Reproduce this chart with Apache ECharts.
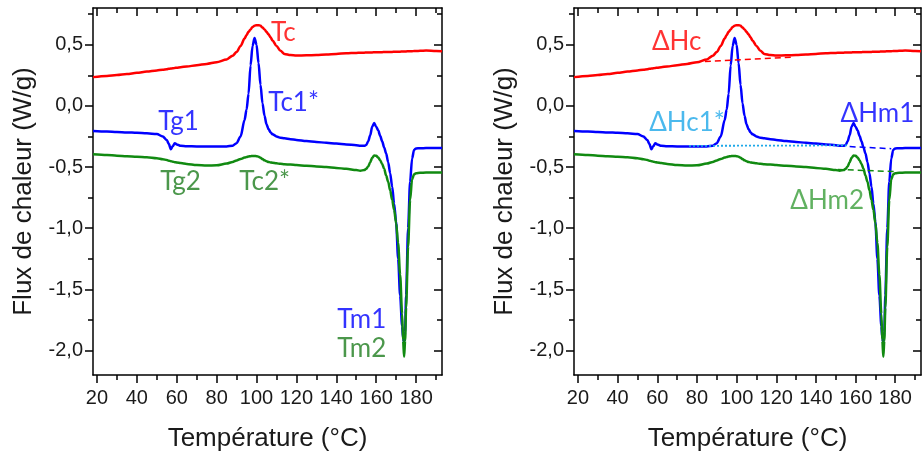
<!DOCTYPE html>
<html>
<head>
<meta charset="utf-8">
<script src="https://cdn.jsdelivr.net/npm/echarts@6/dist/echarts.min.js"></script>
<style>html,body{margin:0;padding:0;background:#fff}#c{width:922px;height:457px}</style>
</head>
<body>
<div id="c"></div>
<script>
// ---- data ----
const temps = [18,25,30,35,40,45,50,53,55,56,
  57,58,59,60,62,65,70,75,80,85,
  88,90,92,94,95,96,97,98,99,100,
  101,102,103,104,105,106,107,108,110,112,
  114,117,120,125,130,135,140,145,150,152,
  154,155,156,157,158,159,160,161,162,163,
  164,165,166,167,168,169,170,171,172,173,
  173.5,174,174.5,175,176,177,178,179,180,182,
  185,190,193];
const fluxRed = [.235,.245,.252,.26,.27,.28,.29,.296,.30,.303,
  .305,.307,.31,.312,.316,.322,.332,.343,.357,.38,
  .41,.44,.49,.55,.58,.605,.625,.645,.655,.66,
  .66,.655,.64,.625,.605,.585,.56,.535,.49,.45,
  .425,.415,.412,.413,.416,.42,.425,.43,.433,.434,
  .435,.436,.436,.437,.437,.438,.438,.438,.439,.439,
  .44,.44,.44,.441,.441,.442,.442,.443,.443,.444,
  .444,.444,.445,.445,.446,.447,.447,.448,.449,.45,
  .452,.449,.446];
const fluxBlue = [-.205,-.21,-.214,-.217,-.22,-.224,-.23,-.25,-.28,-.31,
  -.355,-.33,-.305,-.315,-.327,-.33,-.332,-.333,-.333,-.332,
  -.325,-.305,-.25,-.115,-.03,.10,.33,.49,.555,.50,
  .35,.17,.02,-.08,-.15,-.19,-.215,-.232,-.25,-.26,
  -.265,-.272,-.278,-.288,-.295,-.302,-.308,-.315,-.322,-.325,
  -.327,-.32,-.29,-.24,-.17,-.14,-.17,-.2,-.245,-.29,
  -.34,-.39,-.46,-.55,-.66,-.8,-.95,-1.25,-1.55,-1.8,
  -1.9,-1.935,-1.85,-1.55,-1.0,-.62,-.43,-.36,-.348,-.346,
  -.345,-.345,-.345];
const fluxGreen = [-.396,-.402,-.407,-.411,-.415,-.42,-.428,-.436,-.443,-.448,
  -.452,-.456,-.46,-.463,-.468,-.475,-.484,-.488,-.486,-.472,
  -.458,-.446,-.434,-.423,-.418,-.414,-.411,-.409,-.409,-.411,
  -.416,-.425,-.435,-.445,-.452,-.458,-.462,-.465,-.47,-.474,
  -.477,-.48,-.484,-.49,-.495,-.5,-.507,-.515,-.525,-.53,
  -.525,-.515,-.495,-.46,-.425,-.405,-.408,-.422,-.445,-.475,
  -.515,-.57,-.62,-.69,-.77,-.85,-.96,-1.12,-1.38,-1.7,
  -1.92,-2.05,-1.92,-1.65,-1.15,-.77,-.6,-.56,-.55,-.547,
  -.545,-.545,-.545];

// baselines (right panel)
const baseHcT = [84, 128],  baseHcV = [.362, .398];
const baseHc1T = [76, 156], baseHc1V = [-.327, -.323];
const baseHm1T = [157, 178], baseHm1V = [-.333, -.35];
const baseHm2T = [151, 180], baseHm2V = [-.52, -.537];

// annotations
const leftLabels = ['Tc','Tc1*','Tg1','Tg2','Tc2*','Tm1','Tm2'];
const leftLabelT = [113.4,118.6,60.9,61.9,104.1,152.8,152.8];
const leftLabelV = [0.597,0.025,-0.131,-0.621,-0.621,-1.75,-1.987];
const leftLabelColor = ['#ff0000','#0000ff','#0000ff','#1e7d1e','#1e7d1e','#0000ff','#1e7d1e'];
const rightLabels = ['ΔHc','ΔHc1*','ΔHm1','ΔHm2'];
const rightLabelT = [69.8,75.0,171.0,145.7];
const rightLabelV = [0.523,-0.139,-0.065,-0.777];
const rightLabelColor = ['#ff0000','#1ea8e8','#0000ff','#3a9e3a'];

// ticks
const xMajorTicks = [20,40,60,80,100,120,140,160,180];
const xMinorTicks = [30,50,70,90,110,130,150,170,190];
const yMajorTicks = [-2.0,-1.5,-1.0,-0.5,0.0,0.5];
const yMajorLabels = ['-2,0','-1,5','-1,0','-0,5','0,0','0,5'];
const yMinorTicks = [-1.75,-1.25,-0.75,-0.25,0.25,0.75];

const X_MIN = 18, X_MAX = 193, Y_MIN = -2.2, Y_MAX = 0.8;

// ---- build ----
const zip = (a, b) => a.map((v, i) => [v, b[i]]);
const AX = '#000';
const labelFont = 'Liberation Sans, Arial, sans-serif';

const xAxes = [], yAxes = [], series = [];
const grids = [
  {left: 93, top: 8, width: 349, height: 367},
  {left: 574, top: 8, width: 347, height: 367}
];

grids.forEach((g, gi) => {
  const base = {type: 'value', gridIndex: gi, min: X_MIN, max: X_MAX, splitLine: {show: false}};
  xAxes.push(Object.assign({}, base, {
    position: 'bottom',
    axisLine: {show: true, onZero: false, lineStyle: {color: AX, width: 1.5}},
    axisTick: {show: true, customValues: xMajorTicks, length: 8, lineStyle: {color: AX, width: 1.5}},
    axisLabel: {show: true, customValues: xMajorTicks, fontSize: 20, color: '#1a1a1a', fontFamily: labelFont, margin: 13},
    name: 'Température (°C)', nameLocation: 'middle', nameGap: 51,
    nameTextStyle: {fontSize: 26, color: '#1a1a1a', fontFamily: labelFont}
  }));
  xAxes.push(Object.assign({}, base, {
    position: 'bottom',
    axisLine: {show: false, onZero: false},
    axisTick: {show: true, customValues: xMinorTicks, length: 5, lineStyle: {color: AX, width: 1.5}},
    axisLabel: {show: false}
  }));
  xAxes.push(Object.assign({}, base, {
    position: 'top',
    axisLine: {show: true, onZero: false, lineStyle: {color: AX, width: 1.5}},
    axisTick: {show: true, inside: true, customValues: xMajorTicks, length: 8, lineStyle: {color: AX, width: 1.5}},
    axisLabel: {show: false}
  }));
  xAxes.push(Object.assign({}, base, {
    position: 'top',
    axisLine: {show: false, onZero: false},
    axisTick: {show: true, inside: true, customValues: xMinorTicks, length: 5, lineStyle: {color: AX, width: 1.5}},
    axisLabel: {show: false}
  }));

  const ybase = {type: 'value', gridIndex: gi, min: Y_MIN, max: Y_MAX, splitLine: {show: false}};
  yAxes.push(Object.assign({}, ybase, {
    position: 'left',
    axisLine: {show: true, onZero: false, lineStyle: {color: AX, width: 1.5}},
    axisTick: {show: true, customValues: yMajorTicks, length: 8, lineStyle: {color: AX, width: 1.5}},
    axisLabel: {show: true, customValues: yMajorTicks, fontSize: 20, color: '#1a1a1a', fontFamily: labelFont, margin: 10,
      formatter: v => { const i = yMajorTicks.findIndex(t => Math.abs(t - v) < 1e-6); return i >= 0 ? yMajorLabels[i] : ''; }},
    name: 'Flux de chaleur (W/g)', nameLocation: 'middle', nameGap: 56, nameRotate: 90,
    nameTextStyle: {fontSize: 26, color: '#1a1a1a', fontFamily: labelFont}
  }));
  yAxes.push(Object.assign({}, ybase, {
    position: 'left',
    axisLine: {show: false, onZero: false},
    axisTick: {show: true, customValues: yMinorTicks, length: 5, lineStyle: {color: AX, width: 1.5}},
    axisLabel: {show: false}
  }));
  yAxes.push(Object.assign({}, ybase, {
    position: 'right',
    axisLine: {show: true, onZero: false, lineStyle: {color: AX, width: 1.5}},
    axisTick: {show: true, inside: true, customValues: yMajorTicks, length: 8, lineStyle: {color: AX, width: 1.5}},
    axisLabel: {show: false}
  }));
  yAxes.push(Object.assign({}, ybase, {
    position: 'right',
    axisLine: {show: false, onZero: false},
    axisTick: {show: true, inside: true, customValues: yMinorTicks, length: 5, lineStyle: {color: AX, width: 1.5}},
    axisLabel: {show: false}
  }));

  const xi = gi * 4, yi = gi * 4;
  const curve = (vals, color) => ({
    type: 'line', xAxisIndex: xi, yAxisIndex: yi, data: zip(temps, vals),
    showSymbol: false, symbol: 'none', smooth: 0.3, smoothMonotone: 'x',
    lineStyle: {color: color, width: 2.5}, silent: true, animation: false
  });
  series.push(curve(fluxRed, '#ff0000'));
  series.push(curve(fluxBlue, '#0000ff'));
  series.push(curve(fluxGreen, '#118a11'));

  if (gi === 1) {
    const dashed = (T, V, color, type, w) => ({
      type: 'line', xAxisIndex: xi, yAxisIndex: yi, data: zip(T, V),
      showSymbol: false, symbol: 'none', lineStyle: {color: color, width: w, type: type}, animation: false
    });
    series.push(dashed(baseHcT, baseHcV, '#ff0000', [6, 4], 1.5));
    series.push(dashed(baseHc1T, baseHc1V, '#1ea8e8', [2, 2], 1.8));
    series.push(dashed(baseHm1T, baseHm1V, '#0000ff', [6, 4], 1.5));
    series.push(dashed(baseHm2T, baseHm2V, '#118a11', [6, 4], 1.5));
  }

  const names = gi === 0 ? leftLabels : rightLabels;
  const Ts = gi === 0 ? leftLabelT : rightLabelT;
  const Vs = gi === 0 ? leftLabelV : rightLabelV;
  const Cs = gi === 0 ? leftLabelColor : rightLabelColor;
  series.push({
    type: 'scatter', xAxisIndex: xi, yAxisIndex: yi, symbolSize: 1, animation: false,
    itemStyle: {color: 'rgba(0,0,0,0)'},
    data: names.map((n, i) => ({
      name: n, value: [Ts[i], Vs[i]],
      label: {show: true, position: 'inside', formatter: n, color: Cs[i],
        fontSize: 26, fontFamily: 'Lato, Open Sans, sans-serif'}
    }))
  });
});

const chart = echarts.init(document.getElementById('c'), null, {renderer: 'canvas'});
chart.setOption({
  animation: false,
  backgroundColor: '#fff',
  grid: grids.map(g => Object.assign({containLabel: false}, g)),
  xAxis: xAxes, yAxis: yAxes, series: series
});
</script>
</body>
</html>
